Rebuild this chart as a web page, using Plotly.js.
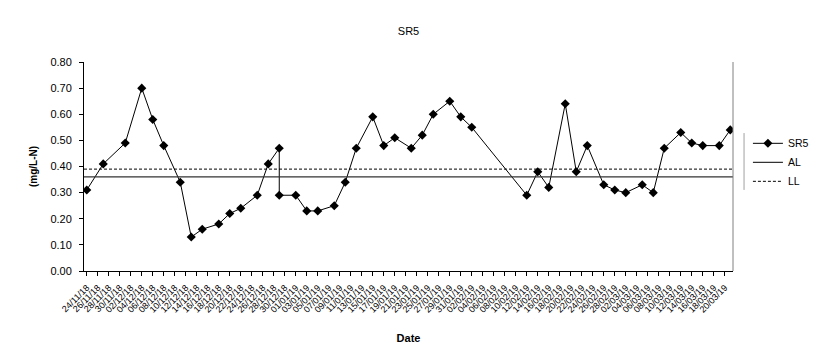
<!DOCTYPE html>
<html>
<head>
<meta charset="utf-8">
<script src="https://cdn.plot.ly/plotly-3.0.1.min.js"></script>
<style>
  html, body { margin: 0; padding: 0; background: #fff; }
  #chart { width: 814px; height: 363px; }
</style>
</head>
<body>
<div id="chart"></div>
<script>
// ---- data ----
const dates = [
  '2018-11-24','2018-11-27','2018-12-01','2018-12-04','2018-12-06','2018-12-08',
  '2018-12-11','2018-12-13','2018-12-15','2018-12-18','2018-12-20','2018-12-22',
  '2018-12-25','2018-12-27','2018-12-29','2018-12-29','2019-01-01','2019-01-03',
  '2019-01-05','2019-01-08','2019-01-10','2019-01-12','2019-01-15','2019-01-17',
  '2019-01-19','2019-01-22','2019-01-24','2019-01-26','2019-01-29','2019-01-31',
  '2019-02-02','2019-02-12','2019-02-14','2019-02-16','2019-02-19','2019-02-21',
  '2019-02-23','2019-02-26','2019-02-28','2019-03-02','2019-03-05','2019-03-07',
  '2019-03-09','2019-03-12','2019-03-14','2019-03-16','2019-03-19','2019-03-21'
];
const sr5 = [
  0.31, 0.41, 0.49, 0.70, 0.58, 0.48,
  0.34, 0.13, 0.16, 0.18, 0.22, 0.24,
  0.29, 0.41, 0.47, 0.29, 0.29, 0.23,
  0.23, 0.25, 0.34, 0.47, 0.59, 0.48,
  0.51, 0.47, 0.52, 0.60, 0.65, 0.59,
  0.55, 0.29, 0.38, 0.32, 0.64, 0.38,
  0.48, 0.33, 0.31, 0.30, 0.33, 0.30,
  0.47, 0.53, 0.49, 0.48, 0.48, 0.54
];
const alValue = 0.36;
const llValue = 0.39;
const seriesNames = ['SR5', 'AL', 'LL'];
const chartTitle = 'SR5';
const xTitle = 'Date';
const yTitle = '(mg/L-N)';
const firstTick = '2018-11-24';
const yMax = 0.8;

// ---- axis extent: half a day either side of the first tick and last sample ----
const HALF_DAY = 12 * 3600 * 1000;
function shift(d, ms) {
  const t = new Date(d + 'T00:00:00Z').getTime() + ms;
  return new Date(t).toISOString().replace('T', ' ').slice(0, 19);
}
const xStart = shift(dates[0], -HALF_DAY);
const xEnd = shift(dates[dates.length - 1], HALF_DAY);

const font = 'Liberation Sans, Arial, sans-serif';

const traces = [
  {
    x: dates, y: sr5, name: seriesNames[0], type: 'scatter', mode: 'lines+markers',
    line: { color: '#000', width: 1 },
    marker: { symbol: 'diamond', size: 7, color: '#000' }
  },
  {
    x: [xStart, xEnd], y: [alValue, alValue], name: seriesNames[1], type: 'scatter', mode: 'lines',
    line: { color: '#333', width: 1.2 }
  },
  {
    x: [xStart, xEnd], y: [llValue, llValue], name: seriesNames[2], type: 'scatter', mode: 'lines',
    line: { color: '#000', width: 1, dash: '3px,2px' }
  }
];

const layout = {
  width: 814, height: 363,
  margin: { l: 84, r: 81, t: 62, b: 92, autoexpand: false },
  paper_bgcolor: '#fff', plot_bgcolor: '#fff',
  font: { family: font, color: '#000', size: 10 },
  title: { text: chartTitle, x: 0.5, xref: 'paper', y: 0.915, yref: 'container', yanchor: 'middle',
           font: { family: font, size: 11, color: '#000' } },
  showlegend: true,
  legend: {
    x: 1.023, xanchor: 'left', y: 0.52, yanchor: 'middle',
    font: { family: font, size: 10.5, color: '#000' },
    bgcolor: 'rgba(0,0,0,0)', borderwidth: 0,
    tracegroupgap: 0, itemwidth: 30
  },
  xaxis: {
    type: 'date',
    range: [xStart, xEnd],
    tickmode: 'linear', tick0: firstTick, dtick: 2 * 24 * 3600 * 1000,
    tickformat: '%d/%m/%y', tickangle: -45,
    tickfont: { family: font, size: 9, color: '#000' },
    ticks: 'outside', ticklen: 4, tickcolor: '#000', tickwidth: 1,
    ticklabelstandoff: 3,
    showline: true, linecolor: '#000', linewidth: 1,
    showgrid: false, zeroline: false,
    title: { text: '<b>' + xTitle + '</b>', font: { family: font, size: 11, color: '#000' }, standoff: 20 }
  },
  yaxis: {
    range: [0, yMax], dtick: 0.1, tick0: 0, tickformat: '.2f',
    tickfont: { family: font, size: 11, color: '#000' },
    ticks: 'outside', ticklen: 4, tickcolor: '#000', tickwidth: 1,
    ticklabelstandoff: 5,
    showline: true, linecolor: '#000', linewidth: 1,
    showgrid: false, zeroline: false,
    title: { text: '<b>' + yTitle + '</b>', font: { family: font, size: 10, color: '#000' }, standoff: 10 }
  },
  shapes: [
    { type: 'line', xref: 'paper', yref: 'paper', x0: 1, x1: 1, y0: 0, y1: 1,
      line: { color: '#808080', width: 1 } },
    { type: 'line', xref: 'paper', yref: 'paper', x0: 1.017, x1: 1.017, y0: 0.388, y1: 0.66,
      line: { color: '#a0a0a0', width: 1 } }
  ]
};

Plotly.newPlot('chart', traces, layout, { displayModeBar: false, staticPlot: true });
</script>
</body>
</html>
